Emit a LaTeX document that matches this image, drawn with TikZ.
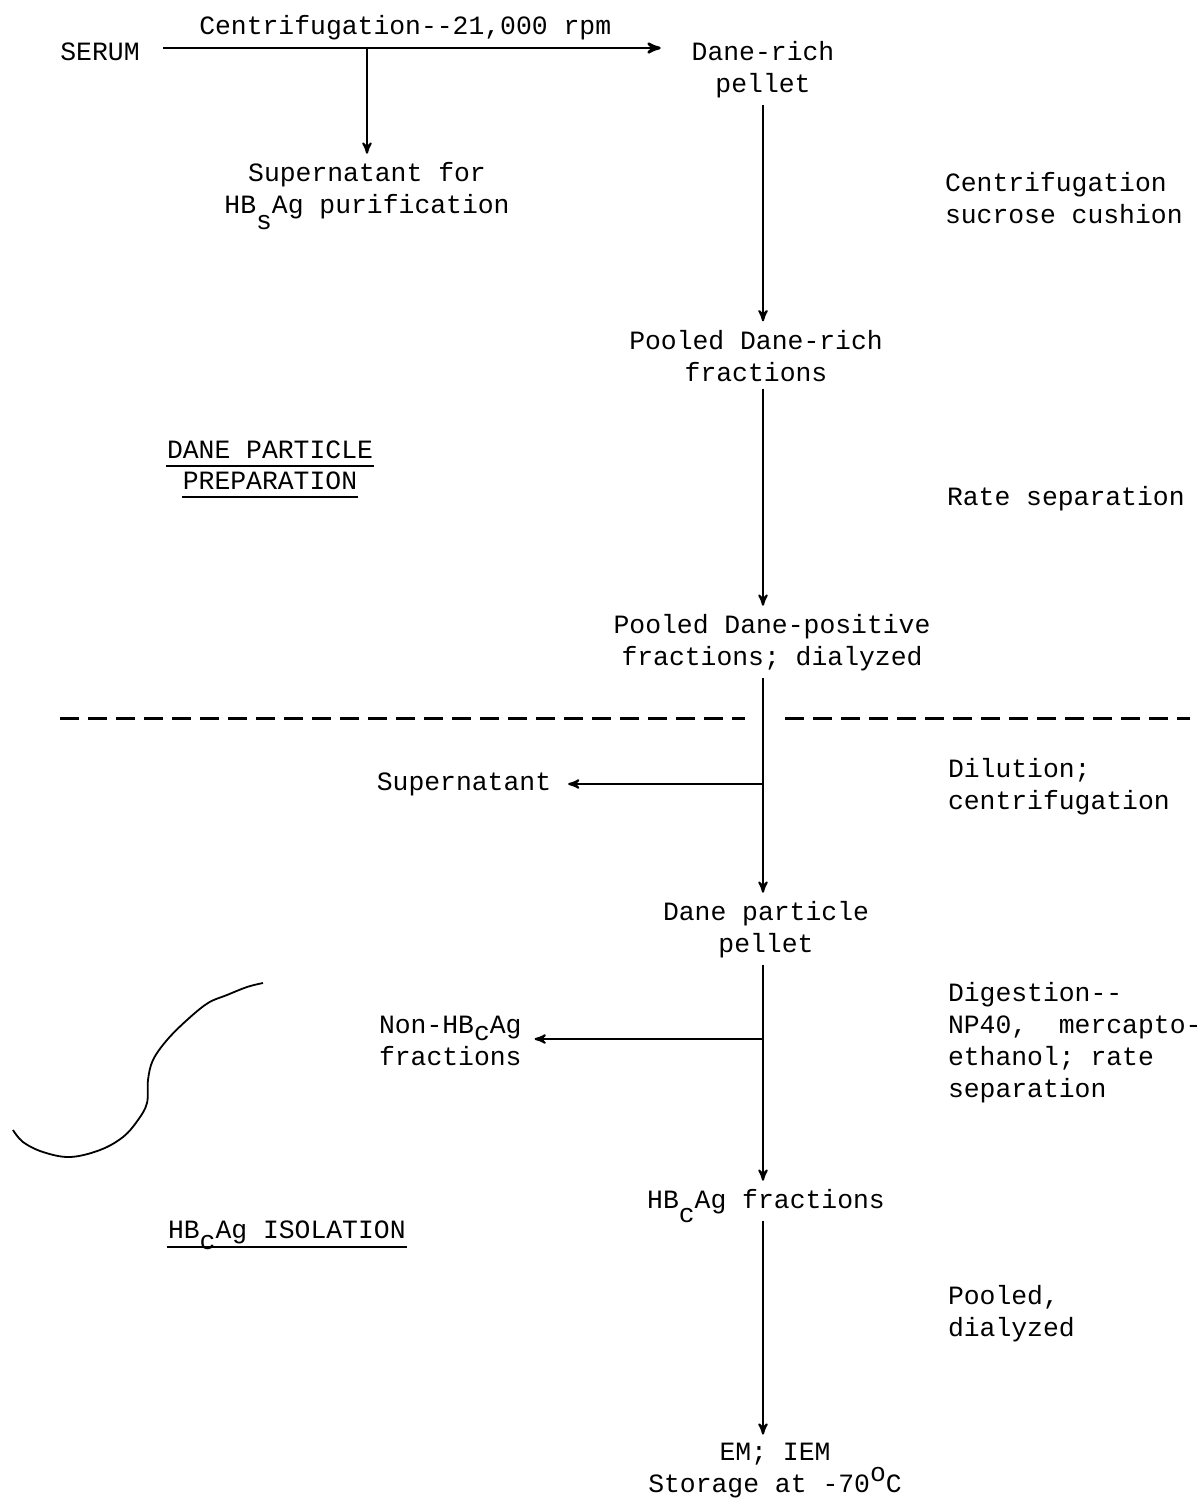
\documentclass[tikz,border=0pt]{standalone}
\usepackage{fontspec}
\setmonofont{Liberation Mono}
\usetikzlibrary{arrows,positioning}
\tikzstyle{post}=[->,shorten >=1pt,>=stealth']
\tikzstyle{mid}=[align=center,inner sep=3pt]
\tikzstyle{side}=[align=left,anchor=west,inner xsep=0pt]
\tikzstyle{heading}=[inner xsep=0pt]
\tikzstyle{rule}=[line width=1.5pt,dash pattern=on 9.5pt off 4.5pt]
\newcommand{\lowsub}[2][0.55em]{\raisebox{-#1}[0pt][0pt]{#2}}
\newcommand{\degO}{\raisebox{0.45em}[0pt][0pt]{o}}

\begin{document}
\begin{tikzpicture}[x=0.5pt,y=-0.5pt,line width=1pt,
font=\ttfamily\fontsize{13.2}{16}\selectfont]
\useasboundingbox (0,0) rectangle (1202,1500);

% dane particle preparation
\node                (serum)   at (100,52)   {SERUM};
\node[mid]           (dane)    at (763,70)   {Dane-rich\\pellet};
\node[mid]           (supfor)  at (367,191)  {Supernatant for\\HB\lowsub[0.6em]{s}Ag purification};
\node[side]          (cushion) at (944,198)  {Centrifugation\\sucrose cushion};
\node[mid]           (pool1)   at (756,356)  {Pooled Dane-rich\\fractions};
\node[side]          (rate)    at (946,499)  {Rate separation};
\node[heading]       (dp1)     at (270,450)  {DANE PARTICLE};
\node[heading]       (dp2)     at (270,481)  {PREPARATION};
\node[mid]           (pool2)   at (772,643)  {Pooled Dane-positive\\fractions; dialyzed};

% hbcag isolation
\node[mid]           (supn)    at (464,784)  {Supernatant};
\node[side]          (dilut)   at (947,787)  {Dilution;\\centrifugation};
\node[mid]           (pellet)  at (766,930)  {Dane particle\\pellet};
\node[side]          (nonhb)   at (378,1041) {Non-HB\lowsub[0.25em]{c}Ag\\fractions};
\node[side]          (digest)  at (947,1043) {Digestion-{}-\\NP40,\ \ mercapto-\\ethanol; rate\\separation};
\node[mid]           (hbc)     at (766,1202) {HB\lowsub[0.5em]{c}Ag fractions};
\node[side]          (iso)     at (167,1232) {HB\lowsub[0.45em]{c}Ag ISOLATION};
\node[side]          (pooled)  at (947,1314) {Pooled,\\dialyzed};
\node[mid]           (store)   at (775,1471) {EM; IEM\\Storage at -70\degO C};

\coordinate (spine) at (763,0);
\coordinate (split) at (367,48);
\coordinate (b1)    at (763,784);
\coordinate (b2)    at (763,1039);

\draw[post,shorten <=8pt,shorten >=12pt,line width=1.3pt] ([yshift=2pt]serum.east) -- node[above,pos=0.48] {Centrifugation-{}-21,000 rpm} ([yshift=2pt]serum.east -| dane.west);
\draw[post] (split) -- (supfor.north -| split);

\path[post] (dane.south -| spine)   edge (pool1.north -| spine)
            (pool1.south -| spine)  edge (pool2.north -| spine)
            (pool2.south -| spine)  edge (pellet.north -| spine)
            (pellet.south -| spine) edge (hbc.north -| spine)
            (hbc.south -| spine)    edge (store.north -| spine);

\draw[post,shorten >=5pt] (b1) -- (supn.east);
\draw[post,shorten >=6pt] (b2) -- (b2 -| nonhb.east);

\draw[rule] (60,718) -- (745,718);
\draw[rule] (785,718) -- (1190,718);

\draw ([yshift=-3.5pt]dp1.base west) -- ([yshift=-3.5pt]dp1.base east);
\draw ([yshift=-3.5pt]dp2.base west) -- ([yshift=-3.5pt]dp2.base east);
\draw ([yshift=-4.5pt]iso.base west) -- ([yshift=-4.5pt]iso.base east);

\draw[line width=0.9pt] plot[smooth,tension=0.6] coordinates {(263,983) (247,987) (227,995) (208,1003) (187,1020) (167,1040) (153,1060) (148,1080) (147,1103) (138,1120) (123,1137) (100,1150) (70,1157) (43,1152) (23,1142) (13,1130)};

\end{tikzpicture}
\end{document}
